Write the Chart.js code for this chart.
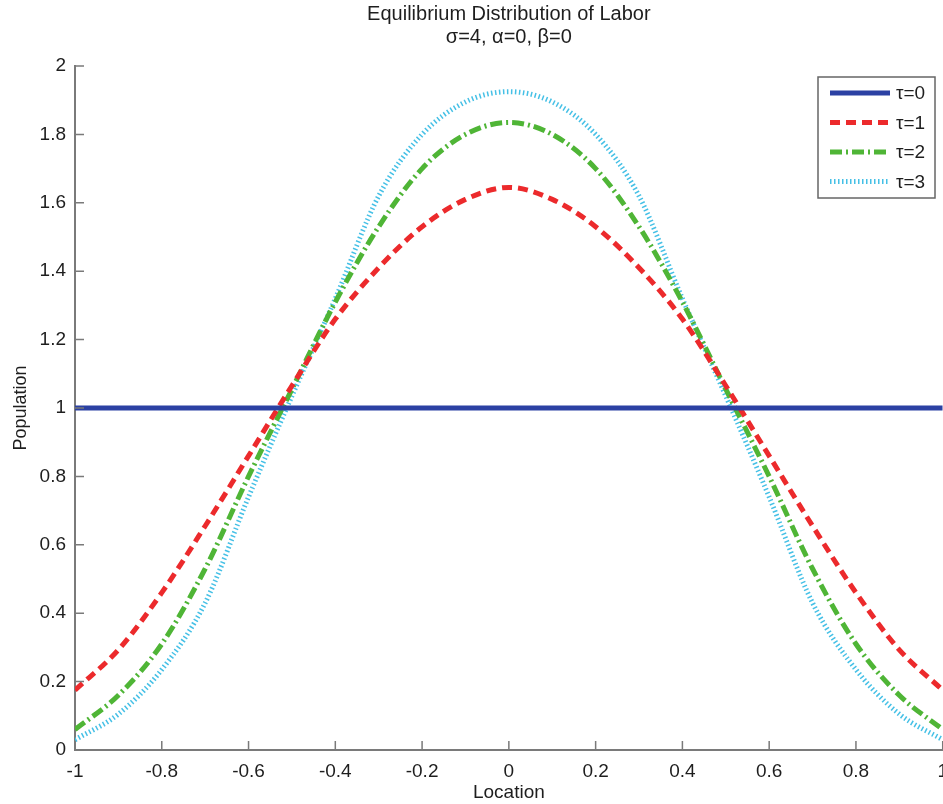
<!DOCTYPE html>
<html>
<head>
<meta charset="utf-8">
<script src="https://cdn.jsdelivr.net/npm/chart.js@4.4.0/dist/chart.umd.min.js"></script>
<style>
  html, body { margin: 0; padding: 0; background: #fff; overflow: hidden; }
  #wrap { width: 943px; height: 804px; overflow: hidden; }
</style>
</head>
<body>
<div id="wrap"><canvas id="chart" width="950" height="804"></canvas></div>
<script>
// values, left half mirrored (curves are symmetric)
const locations = [-1, -0.9, -0.8, -0.7, -0.6, -0.5, -0.4, -0.3, -0.2, -0.1, 0,
                   0.1, 0.2, 0.3, 0.4, 0.5, 0.6, 0.7, 0.8, 0.9, 1];
const tau0 = [1, 1, 1, 1, 1, 1, 1, 1, 1, 1, 1, 1, 1, 1, 1, 1, 1, 1, 1, 1, 1];
const tau1 = [0.175, 0.293, 0.46, 0.655, 0.86, 1.065, 1.26, 1.41, 1.53, 1.61, 1.645,
              1.61, 1.53, 1.41, 1.26, 1.065, 0.86, 0.655, 0.46, 0.293, 0.175];
const tau2 = [0.06, 0.16, 0.31, 0.53, 0.80, 1.055, 1.31, 1.53, 1.70, 1.80, 1.835,
              1.80, 1.70, 1.53, 1.31, 1.055, 0.80, 0.53, 0.31, 0.16, 0.06];
const tau3 = [0.03, 0.105, 0.235, 0.43, 0.74, 1.035, 1.32, 1.62, 1.80, 1.895, 1.925,
              1.895, 1.80, 1.62, 1.32, 1.035, 0.74, 0.43, 0.235, 0.105, 0.03];
const xTicks = [-1, -0.8, -0.6, -0.4, -0.2, 0, 0.2, 0.4, 0.6, 0.8, 1];
const yTicks = [0, 0.2, 0.4, 0.6, 0.8, 1, 1.2, 1.4, 1.6, 1.8, 2];

const axisColor = '#7a7a7a';
const textColor = '#1e1e1e';
const fontFamily = '"Liberation Sans", Arial, Helvetica, sans-serif';

function toPoints(ys) {
  return locations.map((x, i) => ({x: x, y: ys[i]}));
}

// MATLAB style ticks pointing into the axes
const innerTicks = {
  id: 'innerTicks',
  afterDraw(chart) {
    const ctx = chart.ctx;
    const xs = chart.scales.x, ys = chart.scales.y;
    ctx.save();
    ctx.strokeStyle = axisColor;
    ctx.lineWidth = 1.5;
    ctx.beginPath();
    xTicks.forEach(v => {
      const px = xs.getPixelForValue(v);
      ctx.moveTo(px, ys.bottom);
      ctx.lineTo(px, ys.bottom - 9);
    });
    yTicks.forEach(v => {
      const py = ys.getPixelForValue(v);
      ctx.moveTo(xs.left, py);
      ctx.lineTo(xs.left + 9, py);
    });
    ctx.stroke();
    ctx.restore();
  }
};

// legend box in the upper right corner of the axes
const boxLegend = {
  id: 'boxLegend',
  afterDraw(chart) {
    const ctx = chart.ctx;
    const left = 818, top = 77, w = 117, h = 121;
    ctx.save();
    ctx.fillStyle = '#fff';
    ctx.fillRect(left, top, w, h);
    ctx.strokeStyle = '#666';
    ctx.lineWidth = 1.5;
    ctx.strokeRect(left, top, w, h);
    ctx.font = '19px ' + fontFamily;
    ctx.textBaseline = 'middle';
    chart.data.datasets.forEach((ds, i) => {
      const y = top + 16 + i * 29.5;
      ctx.strokeStyle = ds.borderColor;
      ctx.lineWidth = ds.borderWidth;
      ctx.setLineDash(ds.borderDash || []);
      ctx.beginPath();
      ctx.moveTo(left + 12, y);
      ctx.lineTo(left + 72, y);
      ctx.stroke();
      ctx.setLineDash([]);
      ctx.fillStyle = textColor;
      ctx.fillText(ds.label, left + 78, y + 1);
    });
    ctx.restore();
  }
};

const config = {
  type: 'line',
  data: {
    datasets: [
      {label: 'τ=0', data: toPoints(tau0), borderColor: '#2b41a3', borderWidth: 5},
      {label: 'τ=1', data: toPoints(tau1), borderColor: '#ec2a2c', borderWidth: 5, borderDash: [10, 6]},
      {label: 'τ=2', data: toPoints(tau2), borderColor: '#4fb536', borderWidth: 5, borderDash: [12, 4, 2, 4]},
      {label: 'τ=3', data: toPoints(tau3), borderColor: '#45c0e6', borderWidth: 5, borderDash: [1.5, 2.5]}
    ]
  },
  options: {
    responsive: false,
    animation: false,
    layout: {autoPadding: false, padding: {left: 0, right: 0, top: 0, bottom: 0}},
    elements: {
      point: {radius: 0},
      line: {cubicInterpolationMode: 'monotone', fill: false}
    },
    plugins: {
      legend: {display: false},
      tooltip: {enabled: false},
      title: {
        display: true,
        fullSize: false,
        text: ['Equilibrium Distribution of Labor', 'σ=4, α=0, β=0'],
        color: textColor,
        font: {family: fontFamily, size: 20, weight: 'normal', lineHeight: 1.15},
        padding: {top: 3, bottom: 17}
      }
    },
    scales: {
      x: {
        type: 'linear',
        min: -1,
        max: 1,
        afterFit: s => { s.height = 54; },
        afterBuildTicks: s => { s.ticks = xTicks.map(v => ({value: v})); },
        grid: {display: false},
        border: {display: true, color: axisColor, width: 2},
        ticks: {
          color: textColor,
          padding: 2,
          maxRotation: 0,
          autoSkip: false,
          font: {family: fontFamily, size: 19},
          callback: v => String(v)
        },
        title: {
          display: true,
          text: 'Location',
          color: textColor,
          padding: {top: 0, bottom: 0},
          font: {family: fontFamily, size: 19}
        }
      },
      y: {
        min: 0,
        max: 2,
        afterFit: s => { s.width = 75; },
        afterBuildTicks: s => { s.ticks = yTicks.map(v => ({value: v})); },
        grid: {display: false},
        border: {display: true, color: axisColor, width: 2},
        ticks: {
          color: textColor,
          padding: 1,
          autoSkip: false,
          font: {family: fontFamily, size: 19},
          callback: v => String(v)
        },
        title: {
          display: true,
          text: 'Population',
          color: textColor,
          padding: {top: 10, bottom: 0},
          font: {family: fontFamily, size: 18}
        }
      }
    }
  },
  plugins: [innerTicks, boxLegend]
};

const ctx = document.getElementById('chart').getContext('2d');
window.laborChart = new Chart(ctx, config);
</script>
</body>
</html>
